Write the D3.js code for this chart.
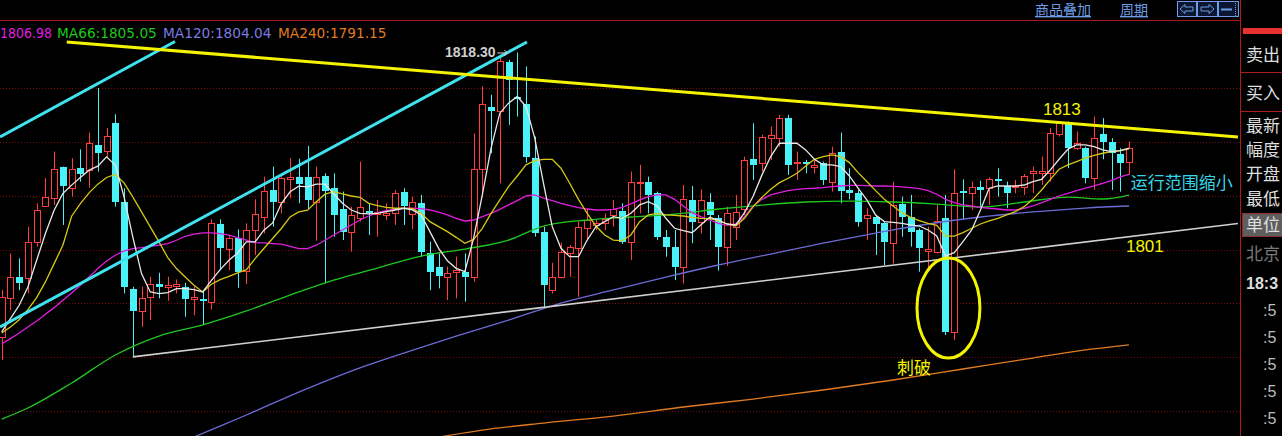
<!DOCTYPE html>
<html><head><meta charset="utf-8">
<script src="https://cdn.jsdelivr.net/npm/d3@7"></script>
<style>html,body{margin:0;padding:0;background:#000;overflow:hidden}</style>
</head><body>
<svg id="c" width="1282" height="436"></svg>
<script>
// ---------- DATA (prices) ----------
const opens = [1791.89,1795.46,1797.47,1797.32,1800.73,1804.07,1804.76,1807.64,1805.69,1807.55,1807.39,1809.72,1809.19,1811.73,1804.45,1796.29,1794.31,1795.55,1796.79,1796.54,1796.60,1796.54,1795.42,1795.42,1795.15,1802.34,1800.01,1801.04,1798.03,1801.81,1803.05,1805.53,1804.45,1806.52,1806.77,1806.71,1804.38,1806.80,1805.69,1803.73,1801.66,1802.90,1803.61,1803.33,1803.21,1803.36,1805.38,1803.30,1804.35,1799.64,1798.40,1797.41,1797.94,1797.94,1797.41,1807.45,1813.28,1812.82,1817.37,1814.21,1813.50,1808.48,1801.66,1796.23,1797.47,1799.64,1800.11,1801.97,1802.28,1802.43,1803.21,1803.61,1800.73,1806.15,1806.31,1805.22,1801.19,1800.26,1798.40,1804.60,1802.59,1804.45,1802.90,1800.26,1802.12,1803.73,1808.38,1808.01,1810.40,1810.34,1812.20,1808.01,1808.17,1807.70,1808.01,1806.31,1809.10,1805.53,1805.28,1802.90,1803.05,1802.43,1800.63,1804.23,1803.05,1801.81,1799.89,1799.80,1802.90,1792.36,1805.44,1805.22,1805.78,1805.69,1806.55,1805.90,1805.78,1805.78,1807.14,1807.14,1807.08,1810.74,1811.79,1809.41,1809.41,1806.62,1810.74,1809.96,1808.88,1808.17];
const highs = [1796.23,1799.64,1799.18,1802.12,1804.29,1806.62,1809.10,1807.70,1808.48,1809.31,1810.86,1814.99,1811.27,1812.57,1805.69,1796.54,1796.54,1797.47,1797.84,1797.47,1797.22,1796.91,1796.54,1796.23,1802.80,1802.80,1801.35,1801.87,1802.43,1804.66,1806.77,1807.70,1806.77,1808.48,1808.44,1809.62,1807.70,1807.08,1807.08,1805.38,1803.98,1808.17,1804.29,1804.60,1804.29,1805.53,1805.69,1804.91,1805.07,1800.73,1799.64,1798.40,1799.33,1799.64,1810.80,1815.14,1814.37,1817.93,1817.62,1818.30,1817.00,1810.49,1802.12,1798.77,1800.63,1800.42,1802.59,1803.83,1802.74,1803.36,1804.60,1804.29,1807.24,1807.86,1806.77,1805.38,1801.81,1801.81,1805.99,1805.90,1805.59,1805.22,1803.21,1803.98,1805.07,1808.63,1811.73,1810.65,1811.42,1812.51,1812.51,1809.10,1808.32,1808.32,1808.17,1809.56,1810.86,1807.55,1805.53,1803.83,1803.21,1802.59,1806.31,1804.91,1805.07,1801.97,1802.12,1804.14,1805.07,1807.45,1806.52,1806.31,1806.40,1806.71,1807.55,1806.31,1806.46,1807.02,1807.70,1808.63,1811.27,1811.89,1811.89,1810.96,1809.56,1812.35,1812.20,1810.34,1809.41,1810.03];
const lows = [1789.72,1794.37,1796.23,1795.92,1800.26,1803.98,1804.14,1802.28,1804.91,1806.31,1805.75,1807.24,1808.63,1803.98,1795.92,1790.03,1792.82,1793.44,1795.46,1795.24,1795.92,1793.75,1793.90,1792.97,1794.43,1798.09,1798.09,1796.45,1796.79,1799.49,1801.50,1802.12,1803.36,1804.76,1804.29,1803.73,1800.82,1796.85,1801.19,1800.88,1799.80,1802.59,1801.35,1801.19,1802.74,1802.28,1802.28,1801.87,1799.33,1796.23,1796.39,1795.30,1795.46,1795.15,1797.01,1805.22,1808.94,1806.15,1811.58,1812.35,1808.07,1801.19,1794.68,1795.92,1797.32,1797.47,1795.61,1800.88,1801.81,1801.81,1802.12,1800.51,1799.02,1803.36,1803.36,1800.88,1799.33,1797.16,1796.85,1800.57,1801.50,1800.88,1798.03,1798.46,1800.88,1803.21,1806.46,1807.24,1808.32,1809.56,1806.93,1806.46,1807.08,1807.08,1806.00,1805.38,1804.29,1804.66,1802.12,1800.88,1799.49,1798.56,1798.71,1801.19,1800.26,1797.94,1798.09,1799.64,1792.05,1791.58,1802.80,1803.67,1803.98,1804.14,1804.91,1803.83,1805.22,1805.07,1805.22,1806.00,1806.31,1810.49,1807.55,1809.25,1806.15,1805.53,1808.38,1805.53,1805.38,1806.93];
const closes = [1795.61,1797.47,1796.91,1800.73,1803.67,1804.91,1807.45,1805.90,1807.45,1806.99,1809.87,1808.94,1810.55,1804.45,1796.54,1794.31,1795.52,1796.79,1796.48,1796.66,1796.79,1795.36,1795.61,1795.24,1802.49,1800.11,1801.04,1797.94,1801.81,1803.30,1805.44,1804.45,1806.62,1806.77,1806.09,1804.60,1806.71,1805.44,1803.21,1801.66,1803.21,1803.98,1803.36,1803.45,1803.36,1805.28,1804.07,1804.38,1799.80,1797.94,1797.56,1797.84,1798.09,1797.41,1807.45,1813.50,1812.91,1817.53,1815.76,1813.96,1808.57,1801.56,1796.70,1797.47,1799.80,1800.26,1802.12,1802.74,1802.43,1802.80,1803.73,1800.73,1806.31,1806.31,1805.07,1801.19,1800.26,1798.40,1804.66,1802.59,1804.60,1803.21,1800.26,1803.36,1803.52,1808.32,1807.86,1810.43,1810.65,1812.20,1807.86,1808.17,1807.95,1807.86,1806.46,1808.94,1805.47,1805.22,1802.59,1803.21,1802.37,1800.73,1804.14,1803.05,1801.66,1800.11,1800.01,1802.68,1792.36,1805.22,1805.22,1805.78,1805.53,1806.55,1806.37,1805.28,1805.90,1806.83,1807.33,1807.33,1810.80,1811.73,1809.41,1809.87,1806.62,1810.34,1810.03,1809.00,1808.01,1809.41];

const ma5 = [1792.34,1793.58,1794.82,1796.52,1799.00,1801.48,1803.65,1805.20,1805.98,1806.69,1807.37,1807.74,1808.61,1807.84,1804.89,1801.17,1797.76,1796.06,1795.90,1796.00,1796.37,1796.37,1796.27,1796.06,1797.14,1798.13,1799.00,1799.68,1800.71,1800.71,1801.79,1802.47,1804.27,1805.36,1805.88,1805.82,1806.07,1806.07,1805.16,1804.29,1803.67,1803.36,1803.30,1803.36,1803.52,1803.67,1803.83,1803.67,1803.21,1801.66,1800.11,1798.96,1798.25,1797.94,1801.04,1805.07,1809.41,1812.66,1813.59,1814.21,1813.28,1810.34,1806.15,1802.12,1800.11,1799.33,1799.33,1800.88,1802.12,1802.59,1803.05,1802.90,1803.36,1804.14,1804.45,1804.04,1802.90,1801.97,1801.75,1801.56,1802.28,1802.99,1802.74,1802.37,1802.28,1803.42,1804.97,1806.93,1808.63,1809.87,1809.87,1809.87,1809.25,1808.38,1807.86,1807.86,1807.70,1806.83,1805.69,1804.60,1803.21,1802.59,1802.52,1802.43,1802.28,1802.18,1801.81,1801.25,1799.39,1799.70,1800.73,1801.81,1803.67,1805.69,1805.90,1805.90,1805.90,1805.99,1806.31,1806.52,1807.39,1808.38,1809.31,1809.72,1809.72,1809.56,1809.25,1809.10,1809.19,1809.41];
const ma10 = [1792.24,1792.80,1793.48,1794.41,1795.53,1796.99,1798.69,1800.40,1803.09,1804.27,1805.26,1806.07,1806.69,1806.97,1806.19,1804.89,1803.50,1802.10,1800.71,1799.25,1798.23,1797.45,1796.68,1796.06,1796.77,1797.20,1797.51,1797.82,1798.13,1799.16,1800.09,1801.02,1801.95,1803.03,1803.50,1803.65,1804.43,1805.14,1805.38,1805.16,1804.97,1804.85,1804.29,1804.07,1803.92,1803.83,1803.83,1803.79,1803.36,1802.59,1802.12,1801.66,1801.13,1800.57,1800.94,1801.97,1803.36,1804.60,1805.84,1806.83,1807.86,1808.26,1808.38,1808.38,1807.55,1806.15,1804.66,1803.36,1802.18,1801.35,1800.88,1800.82,1801.35,1802.59,1803.21,1803.36,1803.21,1803.17,1803.11,1802.99,1802.90,1802.86,1802.68,1802.37,1802.18,1802.90,1803.98,1804.85,1805.59,1806.21,1806.62,1807.08,1807.76,1808.38,1808.63,1808.79,1808.63,1808.07,1807.14,1806.31,1805.47,1804.66,1804.04,1803.42,1802.99,1802.68,1802.43,1802.24,1801.25,1801.25,1801.56,1801.97,1802.37,1802.65,1802.90,1803.21,1803.52,1803.98,1804.66,1805.53,1806.52,1807.45,1807.86,1808.17,1808.48,1808.75,1808.94,1809.10,1809.19,1809.34];
const ma30 = [1791.25,1791.72,1792.24,1792.80,1793.36,1793.98,1794.60,1795.28,1795.96,1796.68,1797.45,1798.23,1798.94,1799.47,1799.87,1800.09,1800.18,1800.30,1800.40,1800.55,1800.86,1801.23,1801.42,1801.54,1801.54,1801.48,1801.33,1801.11,1800.86,1800.64,1800.61,1800.55,1800.49,1800.30,1800.09,1800.09,1800.40,1800.86,1801.35,1801.81,1802.28,1802.74,1803.11,1803.42,1803.61,1803.73,1803.83,1803.83,1803.79,1803.67,1803.48,1803.21,1802.90,1802.65,1802.74,1803.05,1803.36,1803.73,1804.14,1804.54,1804.97,1805.07,1804.76,1804.54,1804.29,1804.07,1803.89,1803.76,1803.67,1803.67,1803.73,1803.92,1804.23,1804.60,1804.91,1805.07,1805.07,1804.66,1804.04,1803.42,1803.05,1802.74,1802.43,1802.24,1802.37,1803.05,1804.04,1804.66,1805.07,1805.28,1805.47,1805.59,1805.65,1805.69,1805.75,1805.84,1805.90,1805.96,1805.96,1805.93,1805.90,1805.90,1805.87,1805.81,1805.75,1805.65,1805.47,1805.13,1804.66,1804.35,1804.14,1804.04,1803.92,1803.83,1803.76,1803.67,1803.67,1803.83,1804.04,1804.35,1804.66,1804.97,1805.22,1805.47,1805.69,1805.90,1806.15,1806.40,1806.75,1806.98];

const ma66Idx = [0,3,8,13,18,23,28,33,38,43,48,53,58,62,67,72,77,82,87,92,97,102,107,112,117,122,126,129];
const ma66 = [1784.25,1785.28,1787.60,1790.20,1791.96,1792.99,1794.29,1795.77,1797.16,1798.28,1799.39,1800.04,1800.88,1802.18,1802.74,1803.02,1803.29,1803.76,1804.13,1804.41,1804.50,1804.41,1804.22,1803.94,1804.41,1804.87,1804.69,1805.05];
const ma120Idx = [17,22,28,34,40,46,52,58,64,70,76,82,88,94,100,106,112,118,124,129];
const ma120 = [1780.82,1782.58,1784.63,1786.76,1788.71,1790.38,1791.96,1793.45,1795.03,1796.24,1797.44,1798.56,1799.58,1800.60,1801.53,1802.37,1803.02,1803.49,1803.85,1804.04];
const ma240Idx = [50,55,62,70,78,86,94,102,110,118,124,129];
const ma240 = [1782.58,1783.23,1783.88,1784.53,1785.37,1786.11,1786.95,1787.88,1788.90,1789.92,1790.67,1791.15];

// hand-drawn trend lines: [candle index, price]
const resistanceLine = [[7.44,1819.27],[141.47,1810.45]];
const channelUpper = [[-0.19,1810.45],[19.83,1819.32]];
const channelLower = [[-0.19,1792.80],[60.11,1819.27]];
const supportLine = [[15,1790.03],[141.47,1802.41]];
const gridValues = [1815,1810,1805,1800,1795,1790,1785];

const legendNames = ["","MA66:","MA120:","MA240:"];
const legendValues = ["1806.98","1805.05","1804.04","1791.15"];
const panelLabels = ["卖出","买入","最新","幅度","开盘","最低","单位","北京","18:3",":5",":5",":5",":5",":5"];

// ---------- DRAWING ----------
const W = 1282, H = 436;
const svg = d3.select('#c');
svg.append('rect').attr('width', W).attr('height', H).attr('fill', '#000');
const x = d3.scaleLinear().domain([0, 129]).range([1.7, 1129]);
const y = d3.scaleLinear().domain([1785, 1815]).range([411, 88]);

svg.append('defs').append('clipPath').attr('id', 'plot')
  .append('rect').attr('x', 0).attr('y', 21).attr('width', 1240).attr('height', 415);
const g = svg.append('g').attr('clip-path', 'url(#plot)');

// grid
g.selectAll('line.grid').data(gridValues).join('line')
  .attr('x1', 0).attr('x2', 1240)
  .attr('y1', d => Math.round(y(d)) + 0.5).attr('y2', d => Math.round(y(d)) + 0.5)
  .attr('stroke', '#7a0a0a').attr('stroke-width', 1).attr('stroke-dasharray', '1,2');

// candles
const RED = '#ff3d3d', CYAN = '#4af2f7';
const cg = g.append('g');
d3.range(opens.length).forEach(i => {
  const o = opens[i], c = closes[i], hi = highs[i], lo = lows[i];
  const up = c >= o;
  const cx = Math.round(x(i)) + 0.5;
  const top = Math.round(y(Math.max(o, c)));
  const bot = Math.round(y(Math.min(o, c)));
  const h = Math.max(1, bot - top);
  if (up) {
    cg.append('line').attr('x1', cx).attr('x2', cx).attr('y1', y(hi)).attr('y2', top + 0.5).attr('stroke', RED);
    cg.append('line').attr('x1', cx).attr('x2', cx).attr('y1', top + h + 0.5).attr('y2', y(lo)).attr('stroke', RED);
    cg.append('rect').attr('x', cx - 3).attr('y', top + 0.5).attr('width', 6).attr('height', h)
      .attr('fill', '#000').attr('stroke', RED).attr('stroke-width', 1);
  } else {
    cg.append('line').attr('x1', cx).attr('x2', cx).attr('y1', y(hi)).attr('y2', y(lo)).attr('stroke', CYAN);
    cg.append('rect').attr('x', cx - 3.5).attr('y', top).attr('width', 7).attr('height', h).attr('fill', CYAN);
  }
});

// moving averages
const denseLine = d3.line().x((d, i) => x(i)).y(d => y(d));
const sparseLine = (idx) => d3.line().x((d, k) => x(idx[k])).y(d => y(d)).curve(d3.curveMonotoneX);
const maStyle = [
  {data: ma240, idx: ma240Idx, color: '#e07b22'},
  {data: ma120, idx: ma120Idx, color: '#6b6bd6'},
  {data: ma66, idx: ma66Idx, color: '#1ec81e'},
  {data: ma30, color: '#e01ee0'},
  {data: ma10, color: '#d6c814'},
  {data: ma5, color: '#e8e8e8'}
];
maStyle.forEach(s => {
  g.append('path').datum(s.data)
    .attr('d', s.idx ? sparseLine(s.idx) : denseLine)
    .attr('fill', 'none').attr('stroke', s.color).attr('stroke-width', 1.3);
});

// trend lines
const tl = d3.line().x(d => x(d[0])).y(d => y(d[1]));
g.append('path').datum(supportLine).attr('d', tl).attr('stroke', '#cfcfcf').attr('stroke-width', 1.6).attr('fill', 'none');
g.append('path').datum(channelUpper).attr('d', tl).attr('stroke', '#3fe3f0').attr('stroke-width', 3).attr('fill', 'none');
g.append('path').datum(channelLower).attr('d', tl).attr('stroke', '#3fe3f0').attr('stroke-width', 3).attr('fill', 'none');
g.append('path').datum(resistanceLine).attr('d', tl).attr('stroke', '#f4f400').attr('stroke-width', 3).attr('fill', 'none');

// ellipse around the spike
const ecI = 108.34, ecP = 1794.56;
g.append('ellipse').attr('cx', x(ecI)).attr('cy', y(ecP))
  .attr('rx', x(ecI + 3.6) - x(ecI)).attr('ry', y(ecP - 4.64) - y(ecP))
  .attr('fill', 'none').attr('stroke', '#f4f400').attr('stroke-width', 3);

// annotations
const cjk = '"Noto Sans CJK SC", "Noto Sans", sans-serif';
const lat = '"Liberation Sans", Arial, sans-serif';
const notes = [
  {t: '1818.30', i: 50.73, p: 1817.88, c: '#cfcfcf', f: lat, s: 14, w: 'bold'},
  {t: '1813', i: 119.15, p: 1812.45, c: '#f4f400', f: lat, s: 17, w: 'normal'},
  {t: '1801', i: 128.65, p: 1799.80, c: '#f4f400', f: lat, s: 17, w: 'normal'},
  {t: '运行范围缩小', i: 129.2, p: 1805.6, c: '#37d6e6', f: cjk, s: 17, w: 'normal'},
  {t: '刺破', i: 102.45, p: 1788.4, c: '#f4f400', f: cjk, s: 17, w: 'normal'}
];
g.selectAll('text.note').data(notes).join('text')
  .attr('x', d => x(d.i)).attr('y', d => y(d.p))
  .attr('fill', d => d.c).attr('font-family', d => d.f).attr('font-size', d => d.s)
  .attr('font-weight', d => d.w).text(d => d.t);
// small pointer next to the high label
const hx = x(59), hy = y(1818.30);
g.append('path').attr('d', `M${hx - 20},${hy + 0.5} L${hx - 10},${hy + 0.5} M${hx - 13},${hy - 2.5} L${hx - 10},${hy + 0.5} L${hx - 13},${hy + 3.5}`)
  .attr('stroke', '#cfcfcf').attr('stroke-width', 1).attr('fill', 'none');

// legend
const legColors = ['#e01ee0', '#1ec81e', '#7b7be0', '#e07b22'];
const legX = [0, 57, 163, 278];
legendValues.forEach((v, k) => {
  const t = svg.append('text').attr('x', legX[k]).attr('y', 38)
    .attr('font-family', '"DejaVu Sans", sans-serif').attr('font-size', 13.7)
    .attr('fill', legColors[k]).text(legendNames[k] + v);
  if (k === 0) t.attr('textLength', 52).attr('lengthAdjust', 'spacingAndGlyphs');
});

// header line and panel border
svg.append('line').attr('x1', 0).attr('x2', 1240).attr('y1', 20.5).attr('y2', 20.5).attr('stroke', '#a81818');
svg.append('line').attr('x1', 1240.5).attr('x2', 1240.5).attr('y1', 0).attr('y2', H).attr('stroke', '#b01a1a');

// header links (underlined)
[['商品叠加', 1035], ['周期', 1120]].forEach(([t, px]) => {
  svg.append('text').attr('x', px).attr('y', 15).attr('font-family', cjk).attr('font-size', 14)
    .attr('fill', '#6d9de6').style('text-decoration', 'underline').text(t);
});
// icon buttons
const ic = '#6d9de6';
[[1177, 19], [1197, 20], [1218, 20]].forEach(([bx, bw]) => {
  svg.append('rect').attr('x', bx + 0.5).attr('y', 1.5).attr('width', bw).attr('height', 15)
    .attr('fill', '#0c1630').attr('stroke', ic);
});
svg.append('path').attr('d', 'M1180,9 L1185,4.5 L1185,7 L1193,7 L1193,11 L1185,11 L1185,13.5 Z').attr('fill', 'none').attr('stroke', ic);
svg.append('path').attr('d', 'M1214,9 L1209,4.5 L1209,7 L1201,7 L1201,11 L1209,11 L1209,13.5 Z').attr('fill', 'none').attr('stroke', ic);
svg.append('line').attr('x1', 1221).attr('x2', 1232).attr('y1', 9.5).attr('y2', 9.5).attr('stroke', ic).attr('stroke-width', 2);
svg.append('line').attr('x1', 1235.5).attr('x2', 1235.5).attr('y1', 3).attr('y2', 16).attr('stroke', ic).attr('stroke-dasharray', '1,1');

// right panel
svg.append('rect').attr('x', 1243).attr('y', 28).attr('width', 39).attr('height', 6).attr('fill', '#e83232');
[72.5, 111.5].forEach(v => svg.append('line').attr('x1', 1240).attr('x2', W).attr('y1', v).attr('y2', v).attr('stroke', '#b01a1a'));
svg.append('rect').attr('x', 1242.5).attr('y', 213.5).attr('width', 40).attr('height', 23).attr('fill', '#5e5e5e').attr('stroke', '#8a3030');
const panelY = [61, 99, 132, 156, 180, 205, 231, 260, 289, 316, 343, 370, 397, 424];
panelLabels.forEach((t, k) => {
  const isTime = k >= 8;
  svg.append('text').attr('x', k >= 9 ? 1263 : 1246).attr('y', panelY[k])
    .attr('font-family', isTime ? lat : cjk)
    .attr('font-size', isTime ? 16 : 17)
    .attr('font-weight', k === 8 ? 'bold' : 'normal')
    .attr('fill', k === 7 ? '#7a7a7a' : (k >= 9 ? '#bdbdbd' : '#dedede'))
    .text(t);
});
</script>
</body></html>
